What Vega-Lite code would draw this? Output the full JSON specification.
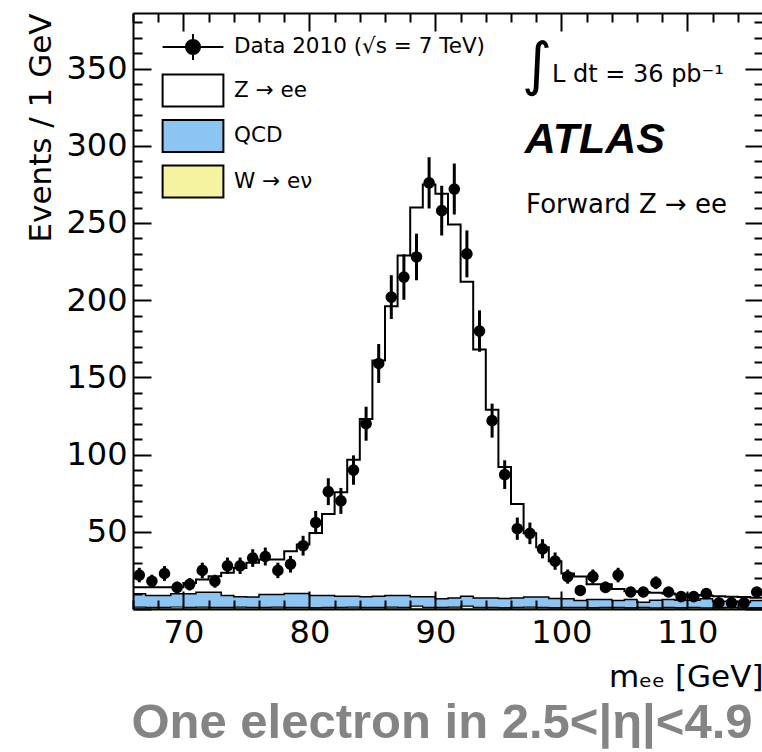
{
  "$schema": "https://vega.github.io/schema/vega-lite/v6.json",
  "width": 630,
  "height": 596,
  "autosize": {"type": "none"},
  "padding": {"left": 133, "top": 13, "right": 0, "bottom": 143},
  "background": "white",
  "config": {"view": {"stroke": null}, "font": "DejaVu Sans"},
  "title": {
    "text": "One electron in 2.5<|η|<4.9",
    "orient": "bottom",
    "anchor": "middle",
    "font": "Liberation Sans",
    "fontSize": 49,
    "fontWeight": "bold",
    "color": "#848484",
    "offset": 7,
    "dx": -6
  },
  "datasets": {
    "hist": [
      {"lo":66,"mc":14.1,"qcd":9.8,"w":1.2},{"lo":67,"mc":14.1,"qcd":8.7,"w":1.0},{"lo":68,"mc":14.1,"qcd":8.7,"w":1.1},
      {"lo":69,"mc":14.1,"qcd":9.8,"w":1.3},{"lo":70,"mc":16.9,"qcd":9.8,"w":1.0},{"lo":71,"mc":19.1,"qcd":10.9,"w":1.2},
      {"lo":72,"mc":21.2,"qcd":10.9,"w":1.1},{"lo":73,"mc":23.4,"qcd":8.7,"w":1.0},{"lo":74,"mc":26.6,"qcd":7.9,"w":1.2},
      {"lo":75,"mc":29.9,"qcd":7.7,"w":1.1},{"lo":76,"mc":32.0,"qcd":9.4,"w":1.0},{"lo":77,"mc":32.0,"qcd":9.4,"w":1.2},
      {"lo":78,"mc":37.4,"qcd":10.0,"w":1.1},{"lo":79,"mc":41.7,"qcd":10.0,"w":1.0},{"lo":80,"mc":49.3,"qcd":8.7,"w":0.9},
      {"lo":81,"mc":61.6,"qcd":8.7,"w":1.1},{"lo":82,"mc":75.6,"qcd":8.3,"w":1.0},{"lo":83,"mc":96.7,"qcd":8.3,"w":1.2},
      {"lo":84,"mc":123,"qcd":7.9,"w":1.1},{"lo":85,"mc":161,"qcd":8.3,"w":1.0},{"lo":86,"mc":196,"qcd":8.7,"w":1.2},
      {"lo":87,"mc":229,"qcd":8.7,"w":1.0},{"lo":88,"mc":260,"qcd":7.9,"w":1.8},{"lo":89,"mc":275,"qcd":7.9,"w":1.1},
      {"lo":90,"mc":269,"qcd":6.6,"w":1.0},{"lo":91,"mc":249,"qcd":7.2,"w":1.2},{"lo":92,"mc":212,"qcd":8.3,"w":1.9},
      {"lo":93,"mc":168,"qcd":7.2,"w":1.0},{"lo":94,"mc":129,"qcd":7.2,"w":1.1},{"lo":95,"mc":92,"qcd":6.8,"w":0.9},
      {"lo":96,"mc":68,"qcd":7.2,"w":1.0},{"lo":97,"mc":49,"qcd":7.7,"w":1.2},{"lo":98,"mc":40,"qcd":7.7,"w":1.0},
      {"lo":99,"mc":31,"qcd":6.8,"w":0.9},{"lo":100,"mc":23,"qcd":6.6,"w":1.1},{"lo":101,"mc":21,"qcd":5.5,"w":1.0},
      {"lo":102,"mc":16,"qcd":6.1,"w":0.9},{"lo":103,"mc":16,"qcd":6.1,"w":1.0},{"lo":104,"mc":13,"qcd":5.5,"w":1.1},
      {"lo":105,"mc":11.5,"qcd":6.1,"w":0.9},{"lo":106,"mc":11,"qcd":4.4,"w":1.0},{"lo":107,"mc":10.5,"qcd":5.7,"w":0.8},
      {"lo":108,"mc":10,"qcd":6.1,"w":1.0},{"lo":109,"mc":9.4,"qcd":5.7,"w":0.9},{"lo":110,"mc":9,"qcd":5.7,"w":1.0},
      {"lo":111,"mc":8.8,"qcd":6.6,"w":0.8},{"lo":112,"mc":8.3,"qcd":5.0,"w":0.9},{"lo":113,"mc":8,"qcd":5.0,"w":1.0},
      {"lo":114,"mc":7.8,"qcd":4.4,"w":0.8},{"lo":115,"mc":7.3,"qcd":5.5,"w":0.9},{"lo":116,"mc":7.3,"qcd":5.5,"w":0.9}
    ],
    "obs": [
      {"m":66.5,"n":22,"err":4.7},{"m":67.5,"n":18,"err":4.2},{"m":68.5,"n":23,"err":4.8},{"m":69.5,"n":14,"err":3.7},
      {"m":70.5,"n":16,"err":4.0},{"m":71.5,"n":25,"err":5.0},{"m":72.5,"n":18,"err":4.2},{"m":73.5,"n":28,"err":5.3},
      {"m":74.5,"n":28,"err":5.3},{"m":75.5,"n":33,"err":5.7},{"m":76.5,"n":34,"err":5.8},{"m":77.5,"n":25,"err":5.0},
      {"m":78.5,"n":29,"err":5.4},{"m":79.5,"n":41,"err":6.4},{"m":80.5,"n":56,"err":7.5},{"m":81.5,"n":76,"err":8.7},
      {"m":82.5,"n":70,"err":8.4},{"m":83.5,"n":90,"err":9.5},{"m":84.5,"n":120,"err":11.0},{"m":85.5,"n":159,"err":12.6},
      {"m":86.5,"n":202,"err":14.2},{"m":87.5,"n":215,"err":14.7},{"m":88.5,"n":228,"err":15.1},{"m":89.5,"n":276,"err":16.6},
      {"m":90.5,"n":258,"err":16.1},{"m":91.5,"n":272,"err":16.5},{"m":92.5,"n":230,"err":15.2},{"m":93.5,"n":180,"err":13.4},
      {"m":94.5,"n":122,"err":11.0},{"m":95.5,"n":87,"err":9.3},{"m":96.5,"n":52,"err":7.2},{"m":97.5,"n":49,"err":7.0},
      {"m":98.5,"n":39,"err":6.2},{"m":99.5,"n":31,"err":5.6},{"m":100.5,"n":21,"err":4.6},{"m":101.5,"n":12,"err":3.5},
      {"m":102.5,"n":21,"err":4.6},{"m":103.5,"n":14,"err":3.7},{"m":104.5,"n":22,"err":4.7},{"m":105.5,"n":11,"err":3.3},
      {"m":106.5,"n":11,"err":3.3},{"m":107.5,"n":17,"err":4.1},{"m":108.5,"n":11,"err":3.3},{"m":109.5,"n":8,"err":2.8},
      {"m":110.5,"n":8,"err":2.8},{"m":111.5,"n":10,"err":3.2},{"m":112.5,"n":4,"err":2.0},{"m":113.5,"n":4,"err":2.0},
      {"m":114.5,"n":4,"err":2.0},{"m":115.5,"n":11,"err":3.3}
    ]
  },
  "resolve": {"axis": {"x": "independent", "y": "independent"}},
  "layer": [
    {
      "data": {"name": "hist"},
      "mark": {"type": "area", "interpolate": "step-after", "stroke": "black", "strokeWidth": 2, "clip": true},
      "encoding": {
        "x": {
          "field": "lo", "type": "quantitative",
          "scale": {"domain": [66, 116], "nice": false, "zero": false},
          "axis": {
            "orient": "bottom",
            "values": [66,68,70,72,74,76,78,80,82,84,86,88,90,92,94,96,98,100,102,104,106,108,110,112,114,116],
            "labelExpr": "datum.value % 10 === 0 ? datum.label : ''",
            "ticks": false,
            "grid": true, "gridColor": "black", "gridWidth": 2, "gridOpacity": 1,
            "gridDash": {"condition": {"test": "datum.value % 10 === 0", "value": [18, 2000]}, "value": [9, 2000]},
            "domainColor": "black", "domainWidth": 2,
            "labelFont": "DejaVu Sans", "labelFontSize": 32, "labelColor": "black", "labelPadding": 8,
            "labelOverlap": false, "labelFlush": false, "labelBound": false,
            "title": "mₑₑ [GeV]", "titleAnchor": "end", "titleFont": "DejaVu Sans", "titleFontSize": 31,
            "titleFontWeight": "normal", "titleColor": "black", "titlePadding": 14,
            "zindex": 1
          }
        },
        "y": {
          "field": "mc", "type": "quantitative",
          "scale": {"domain": [0, 386], "nice": false},
          "axis": {
            "orient": "left",
            "values": [0,10,20,30,40,50,60,70,80,90,100,110,120,130,140,150,160,170,180,190,200,210,220,230,240,250,260,270,280,290,300,310,320,330,340,350,360,370,380],
            "labelExpr": "datum.value % 50 === 0 && datum.value > 0 ? datum.label : ''",
            "ticks": false,
            "grid": true, "gridColor": "black", "gridWidth": 2, "gridOpacity": 1,
            "gridDash": {"condition": {"test": "datum.value % 50 === 0", "value": [18, 2000]}, "value": [9, 2000]},
            "domainColor": "black", "domainWidth": 2,
            "labelFont": "DejaVu Sans", "labelFontSize": 32, "labelColor": "black", "labelPadding": 6,
            "labelOverlap": false, "labelFlush": false, "labelBound": false,
            "title": "Events / 1 GeV", "titleAnchor": "end", "titleFont": "DejaVu Sans", "titleFontSize": 31,
            "titleFontWeight": "normal", "titleColor": "black", "titlePadding": 8,
            "zindex": 1
          }
        },
        "color": {
          "datum": "Z → ee",
          "scale": {
            "domain": ["Data 2010 (√s = 7 TeV)", "Z → ee", "QCD", "W → eν"],
            "range": ["black", "white", "#8cc5f2", "#f5f2a0"]
          },
          "legend": {
            "orient": "none", "legendX": 43, "legendY": 17, "title": null, "padding": 0,
            "symbolSize": 1024, "labelFont": "DejaVu Sans", "labelFontSize": 21.5, "labelColor": "black",
            "labelOffset": 24, "rowPadding": 5.5, "labelLimit": 400,
            "symbolStrokeWidth": 2, "symbolStrokeColor": "black", "symbolOpacity": 1,
            "encode": {
              "symbols": {
                "update": {
                  "shape": {"signal": "datum.value === 'Data 2010 (√s = 7 TeV)' ? 'M-1.9,0H1.9M0,-0.82V0.82M0.44,0A0.44,0.44,0,1,1,-0.44,0A0.44,0.44,0,1,1,0.44,0' : 'M-1.9,-1H1.9V1H-1.9Z'"},
                  "stroke": {"value": "black"},
                  "strokeWidth": {"value": 2},
                  "opacity": {"value": 1}
                }
              }
            }
          }
        }
      }
    },
    {
      "data": {"name": "hist"},
      "mark": {"type": "area", "interpolate": "step-after", "stroke": "black", "strokeWidth": 1.5, "clip": true},
      "encoding": {
        "x": {
          "field": "lo", "type": "quantitative",
          "scale": {"domain": [66, 116], "nice": false, "zero": false},
          "axis": {
            "orient": "top",
            "values": [66,68,70,72,74,76,78,80,82,84,86,88,90,92,94,96,98,100,102,104,106,108,110,112,114,116],
            "labels": false, "ticks": false,
            "grid": true, "gridColor": "black", "gridWidth": 2, "gridOpacity": 1,
            "gridDash": {"condition": {"test": "datum.value % 10 === 0", "value": [18, 2000]}, "value": [9, 2000]},
            "domainColor": "black", "domainWidth": 2,
            "title": null, "zindex": 1
          }
        },
        "y": {
          "field": "qcd", "type": "quantitative",
          "scale": {"domain": [0, 386], "nice": false},
          "axis": {
            "orient": "right",
            "values": [0,10,20,30,40,50,60,70,80,90,100,110,120,130,140,150,160,170,180,190,200,210,220,230,240,250,260,270,280,290,300,310,320,330,340,350,360,370,380],
            "labels": false, "ticks": false,
            "grid": true, "gridColor": "black", "gridWidth": 2, "gridOpacity": 1,
            "gridDash": {"condition": {"test": "datum.value % 50 === 0", "value": [18, 2000]}, "value": [9, 2000]},
            "domainColor": "black", "domainWidth": 2,
            "title": null, "zindex": 1
          }
        },
        "color": {"datum": "QCD"}
      }
    },
    {
      "data": {"name": "hist"},
      "mark": {"type": "area", "interpolate": "step-after", "stroke": "black", "strokeWidth": 1.2, "clip": true},
      "encoding": {
        "x": {"field": "lo", "type": "quantitative", "axis": null},
        "y": {"field": "w", "type": "quantitative", "axis": null},
        "color": {"datum": "W → eν"}
      }
    },
    {
      "data": {"name": "obs"},
      "mark": {"type": "errorbar", "ticks": false, "color": "black", "thickness": 3, "clip": true},
      "encoding": {
        "x": {"field": "m", "type": "quantitative", "axis": null},
        "y": {"field": "n", "type": "quantitative", "axis": null},
        "yError": {"field": "err"}
      }
    },
    {
      "data": {"name": "obs"},
      "mark": {"type": "point", "filled": true, "shape": "circle", "size": 135, "opacity": 1, "clip": true},
      "encoding": {
        "x": {"field": "m", "type": "quantitative", "axis": null},
        "y": {"field": "n", "type": "quantitative", "axis": null},
        "color": {"datum": "Data 2010 (√s = 7 TeV)"}
      }
    },
    {
      "data": {"values": [{}]},
      "mark": {"type": "text", "text": "∫", "font": "DejaVu Sans", "fontSize": 58, "align": "left", "baseline": "middle", "color": "black"},
      "encoding": {"x": {"datum": 96.85, "axis": null}, "y": {"datum": 351, "axis": null}}
    },
    {
      "data": {"values": [{}]},
      "mark": {"type": "text", "text": "L dt = 36 pb⁻¹", "font": "DejaVu Sans", "fontSize": 24, "align": "left", "baseline": "alphabetic", "color": "black"},
      "encoding": {"x": {"datum": 99.25, "axis": null}, "y": {"datum": 341.3, "axis": null}}
    },
    {
      "data": {"values": [{}]},
      "mark": {"type": "text", "text": "ATLAS", "font": "Liberation Sans", "fontSize": 43, "fontWeight": "bold", "fontStyle": "italic", "align": "left", "baseline": "alphabetic", "color": "black"},
      "encoding": {"x": {"datum": 97.1, "axis": null}, "y": {"datum": 295.3, "axis": null}}
    },
    {
      "data": {"values": [{}]},
      "mark": {"type": "text", "text": "Forward Z → ee", "font": "DejaVu Sans", "fontSize": 26, "align": "left", "baseline": "alphabetic", "color": "black"},
      "encoding": {"x": {"datum": 97.2, "axis": null}, "y": {"datum": 256.5, "axis": null}}
    }
  ]
}
